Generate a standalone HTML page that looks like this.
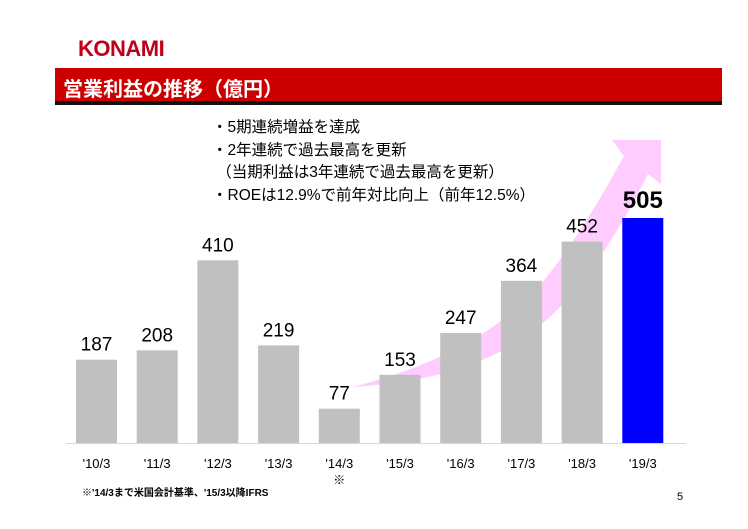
<!DOCTYPE html>
<html><head><meta charset="utf-8">
<style>
body{margin:0;background:#fff;}
#root{position:relative;width:748px;height:529px;overflow:hidden;font-family:"Liberation Sans","Noto Sans CJK JP",sans-serif;}
.t{position:absolute;white-space:nowrap;}
</style></head>
<body>
<div id="root">
<div class="t" style="left:78px;top:36px;font-size:22px;font-weight:bold;color:#c00018;letter-spacing:-0.5px;">KONAMI</div>
<div style="position:absolute;left:55px;top:68px;width:667px;height:33px;background:#cc0000;border-bottom:4px solid #111;"></div>
<div class="t" style="left:63px;top:73px;font-size:20px;font-weight:bold;color:#fff;">営業利益の推移（億円）</div>
<div class="t" style="left:212px;top:117px;font-size:15.5px;line-height:22.5px;color:#000;">
・5期連続増益を達成<br>・2年連続で過去最高を更新<br>&nbsp;（当期利益は3年連続で過去最高を更新）<br>・ROEは12.9%で前年対比向上（前年12.5%）</div>
<svg id="chart" width="748" height="529" style="position:absolute;left:0;top:0">
<path d="M352,387 C440,365 500,330 540,285 C570,250 600,200 624,156 L612,140 L661,140 L661,184 L648,174 C625,220 595,270 562,305 C510,360 440,382 352,387 Z" fill="#ffccff"/>
<line x1="66" y1="443.5" x2="686" y2="443.5" stroke="#d9d9d9" stroke-width="1"/>
<g id="bars"></g>
</svg>
<div class="t" style="left:82px;top:484px;font-size:10px;font-weight:bold;">※'14/3まで米国会計基準、'15/3以降IFRS</div>
<div class="t" style="left:677px;top:491px;font-size:11px;">5</div>
</div>
<script>
const categories=["'10/3","'11/3","'12/3","'13/3","'14/3","'15/3","'16/3","'17/3","'18/3","'19/3"];
const values=[187,208,410,219,77,153,247,364,452,505];
const notes=["","","","","※","","","","",""];
const g=document.getElementById('bars');
const NS='http://www.w3.org/2000/svg';
const base=443, k=225/505;
function xc(i){return 96.5+60.7*i;}
function y(v){return base-v*k;}
categories.forEach((c,i)=>{
 const last=i===categories.length-1;
 const r=document.createElementNS(NS,'rect');
 
 
 r.setAttribute('x',xc(i)-20.5);r.setAttribute('width',41);
 r.setAttribute('y',y(values[i]));r.setAttribute('height',base-y(values[i]));
 r.setAttribute('fill',last?'#0000ff':'#c0c0c0');
 g.appendChild(r);
 const t=document.createElementNS(NS,'text');
 
 
 t.setAttribute('x',xc(i));t.setAttribute('y',y(values[i])-(last?10:9));
 t.setAttribute('text-anchor','middle');
 t.setAttribute('font-size',last?24:19);
 if(last)t.setAttribute('font-weight','bold');
 t.setAttribute('font-family','Liberation Sans, sans-serif');
 t.textContent=values[i];g.appendChild(t);
 const a=document.createElementNS(NS,'text');
 
 
 a.setAttribute('x',xc(i));a.setAttribute('y',468);
 a.setAttribute('text-anchor','middle');a.setAttribute('font-size',13);
 a.setAttribute('font-family','Liberation Sans, sans-serif');
 a.textContent=c;g.appendChild(a);
 if(notes[i]){
  const n=document.createElementNS(NS,'text');
  
  
  n.setAttribute('x',xc(i));n.setAttribute('y',484);
  n.setAttribute('text-anchor','middle');n.setAttribute('font-size',12);
  n.setAttribute('font-family','Noto Sans CJK JP, sans-serif');
  n.textContent=notes[i];g.appendChild(n);
 }
});
</script>
</body></html>
